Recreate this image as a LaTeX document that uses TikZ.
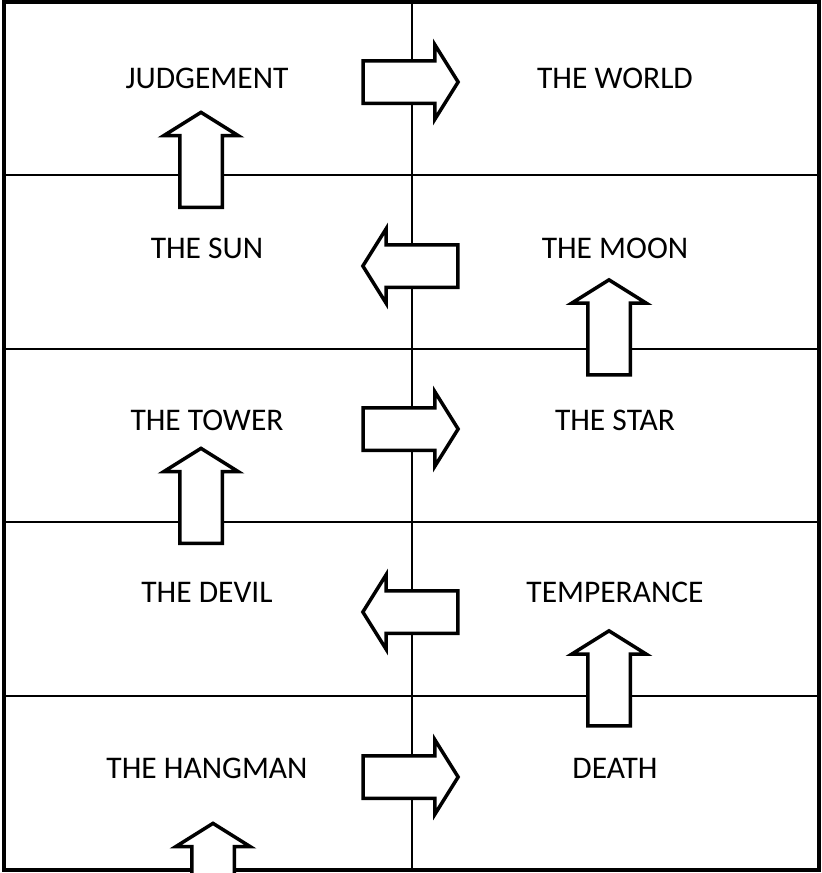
\documentclass[tikz,border=0pt]{standalone}
\usepackage{fontspec}
\setmainfont{Carlito}
\usetikzlibrary{shapes.arrows, positioning}

\begin{document}
\begin{tikzpicture}[x=1pt, y=-1pt,
        cardlabel/.style={font=\fontsize{31.5}{36}\selectfont, inner sep=0pt},
        blockarrow/.style={
            single arrow, draw=black, fill=white, line width=3.5pt,
            inner sep=19.5pt, single arrow head extend=16pt,
            single arrow tip angle=116, minimum height=95pt,
            line join=miter
        },
        gridline/.style={line width=2pt}
    ]
        \useasboundingbox (0,0) rectangle (822,873);
        \clip (0,0) rectangle (822,873);

        % frame and grid
        \draw[line width=3.5pt] (4,2) rectangle (819,870);
        \coordinate (midtop) at (412,2);
        \coordinate (midbot) at (412,870);
        \draw[gridline] (midtop) -- (midbot);
        \foreach \y in {175, 349, 522, 696}
            \draw[gridline] (4,\y) -- (819,\y);

        % labels, left column
        \node[cardlabel] (judgement) at (207,78) {JUDGEMENT};
        \node[cardlabel] (sun) at (207,248) {THE SUN};
        \node[cardlabel] (tower) at (207,420) {THE TOWER};
        \node[cardlabel] (devil) at (207,592) {THE DEVIL};
        \node[cardlabel] (hangman) at (207,768) {THE HANGMAN};

        % labels, right column
        \node[cardlabel] (world) at (615,78) {THE WORLD};
        \node[cardlabel] (moon) at (615,248) {THE MOON};
        \node[cardlabel] (star) at (615,420) {THE STAR};
        \node[cardlabel] (temperance) at (615,592) {TEMPERANCE};
        \node[cardlabel] (death) at (615,768) {DEATH};

        % sideways arrows
        \node[blockarrow] (toworld) at (404,82) {};
        \node[blockarrow, shape border rotate=180] (tosun) at (417,266) {};
        \node[blockarrow] (tostar) at (404,429) {};
        \node[blockarrow, shape border rotate=180] (todevil) at (417,612) {};
        \node[blockarrow] (todeath) at (404,777) {};

        % upward arrows
        \node[blockarrow, shape border rotate=90] (tojudgement) at (201,166.5) {};
        \node[blockarrow, shape border rotate=90] (tomoon) at (609,334) {};
        \node[blockarrow, shape border rotate=90] (totower) at (201,502.5) {};
        \node[blockarrow, shape border rotate=90] (totemperance) at (609,685) {};
        \node[blockarrow, shape border rotate=90] (tohangman) at (213,877.5) {};
\end{tikzpicture}
\end{document}
